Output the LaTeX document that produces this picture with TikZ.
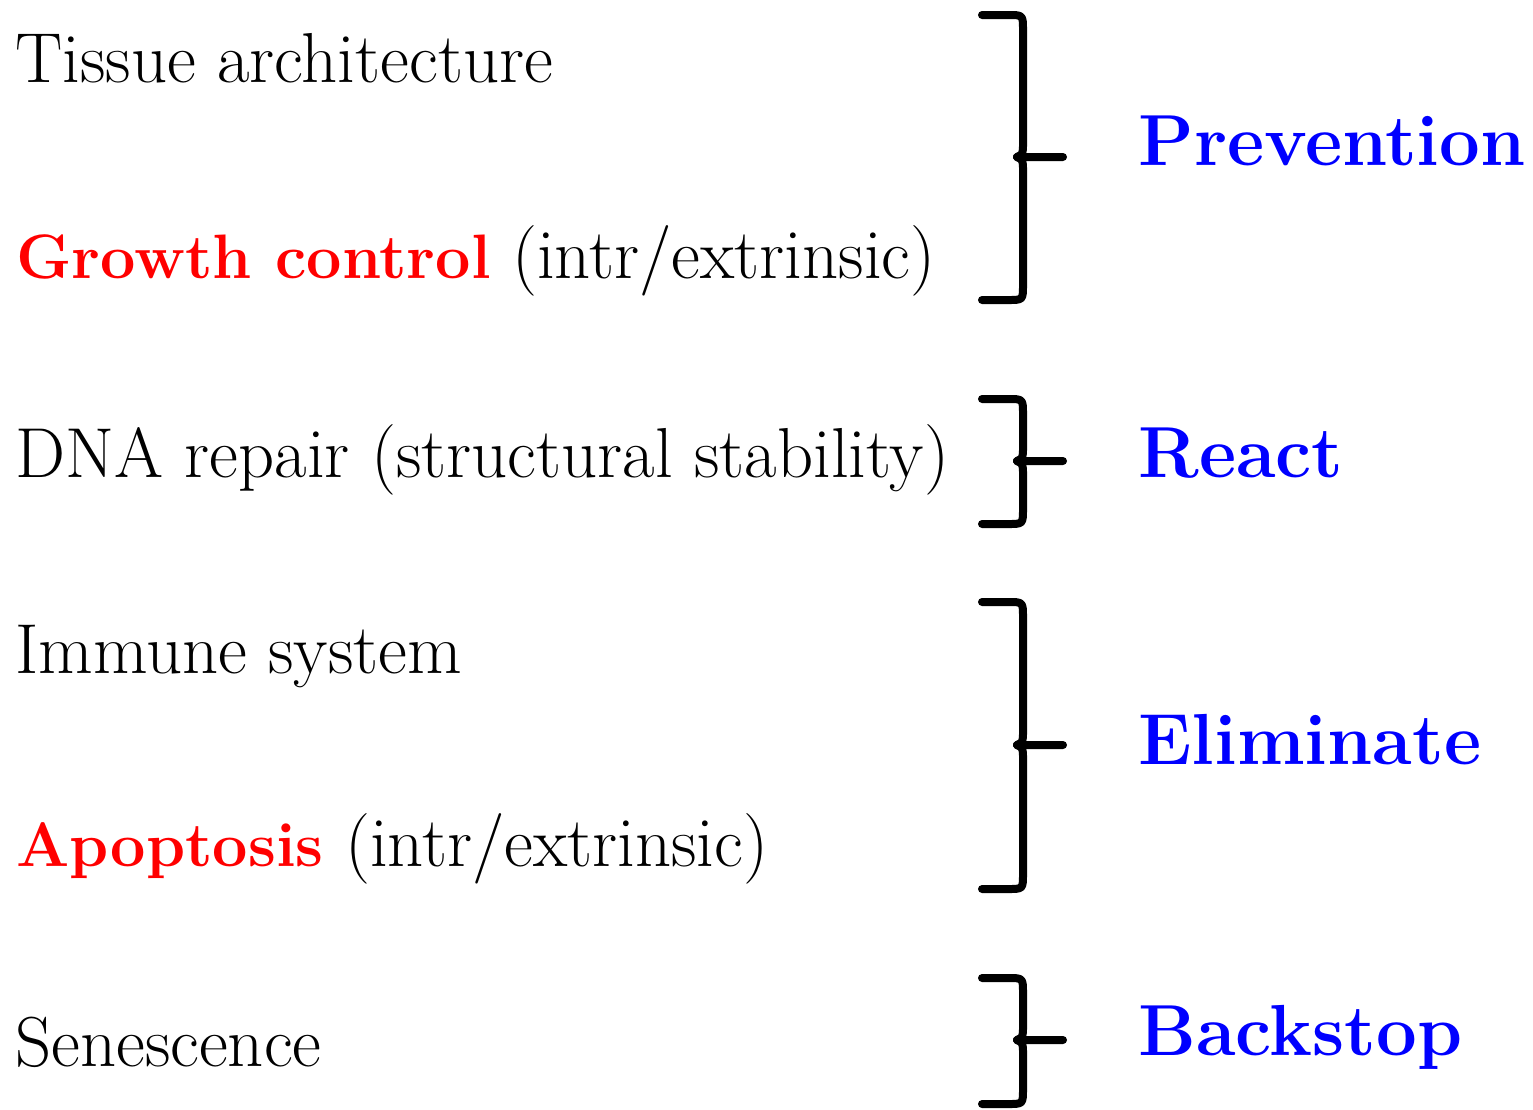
\documentclass[tikz,border=0pt]{standalone}
\usepackage{fontspec}
\usepackage{tikz}
\usetikzlibrary{positioning}

\newcommand{\sidebrace}[3]{%
	\draw[bstyle] (982,#1) -- (1008,#1) .. controls (1023,#1) .. (1023,{#1+15})
		-- (1023,{#2-14}) .. controls (1023,{#2-3}) .. (1017,#2) -- (1063,#2);
	\draw[bstyle] (1017,#2) .. controls (1023,{#2+3}) .. (1023,{#2+14})
		-- (1023,{#3-15}) .. controls (1023,#3) .. (1008,#3) -- (982,#3);
}
\newcommand{\redword}[1]{{\fontsize{31.5}{38}\selectfont\bfseries\color{red}#1}}

\begin{document}
\begin{tikzpicture}[x=0.5bp, y=-0.5bp,
	lstyle/.style={anchor=base west, inner sep=0pt, font=\fontsize{35.5}{42}\selectfont},
	gstyle/.style={anchor=base west, inner sep=0pt, text=blue,
	font=\fontsize{36.3}{43}\selectfont\bfseries},
	bstyle/.style={line width=4bp, line cap=round, line join=round}
	]
	\useasboundingbox (0,0) rectangle (1533,1109);
	
	\node[lstyle] (tissue) at (15,82) {Tissue architecture};
	\node[lstyle] (growth) at (16,278) {\redword{Growth control} (intr/extrinsic)};
	\node[lstyle] (dna) at (15,477) {DNA repair (structural stability)};
	\node[lstyle] (immune) at (15,673) {Immune system};
	\node[lstyle] (apopt) at (16,866) {\redword{Apoptosis} (intr/extrinsic)};
	\node[lstyle] (senes) at (15,1066) {Senescence};
	
	\sidebrace{15}{157}{300}
	\sidebrace{399}{461}{524}
	\sidebrace{602}{745}{889}
	\sidebrace{978}{1040}{1104}
	
	\node[gstyle] (prev) at (1138,165) {Prevention};
	\node[gstyle] (react) at (1138,477) {React};
	\node[gstyle] (elim) at (1138,764) {Eliminate};
	\node[gstyle] (back) at (1138,1055) {Backstop};
\end{tikzpicture}
\end{document}
